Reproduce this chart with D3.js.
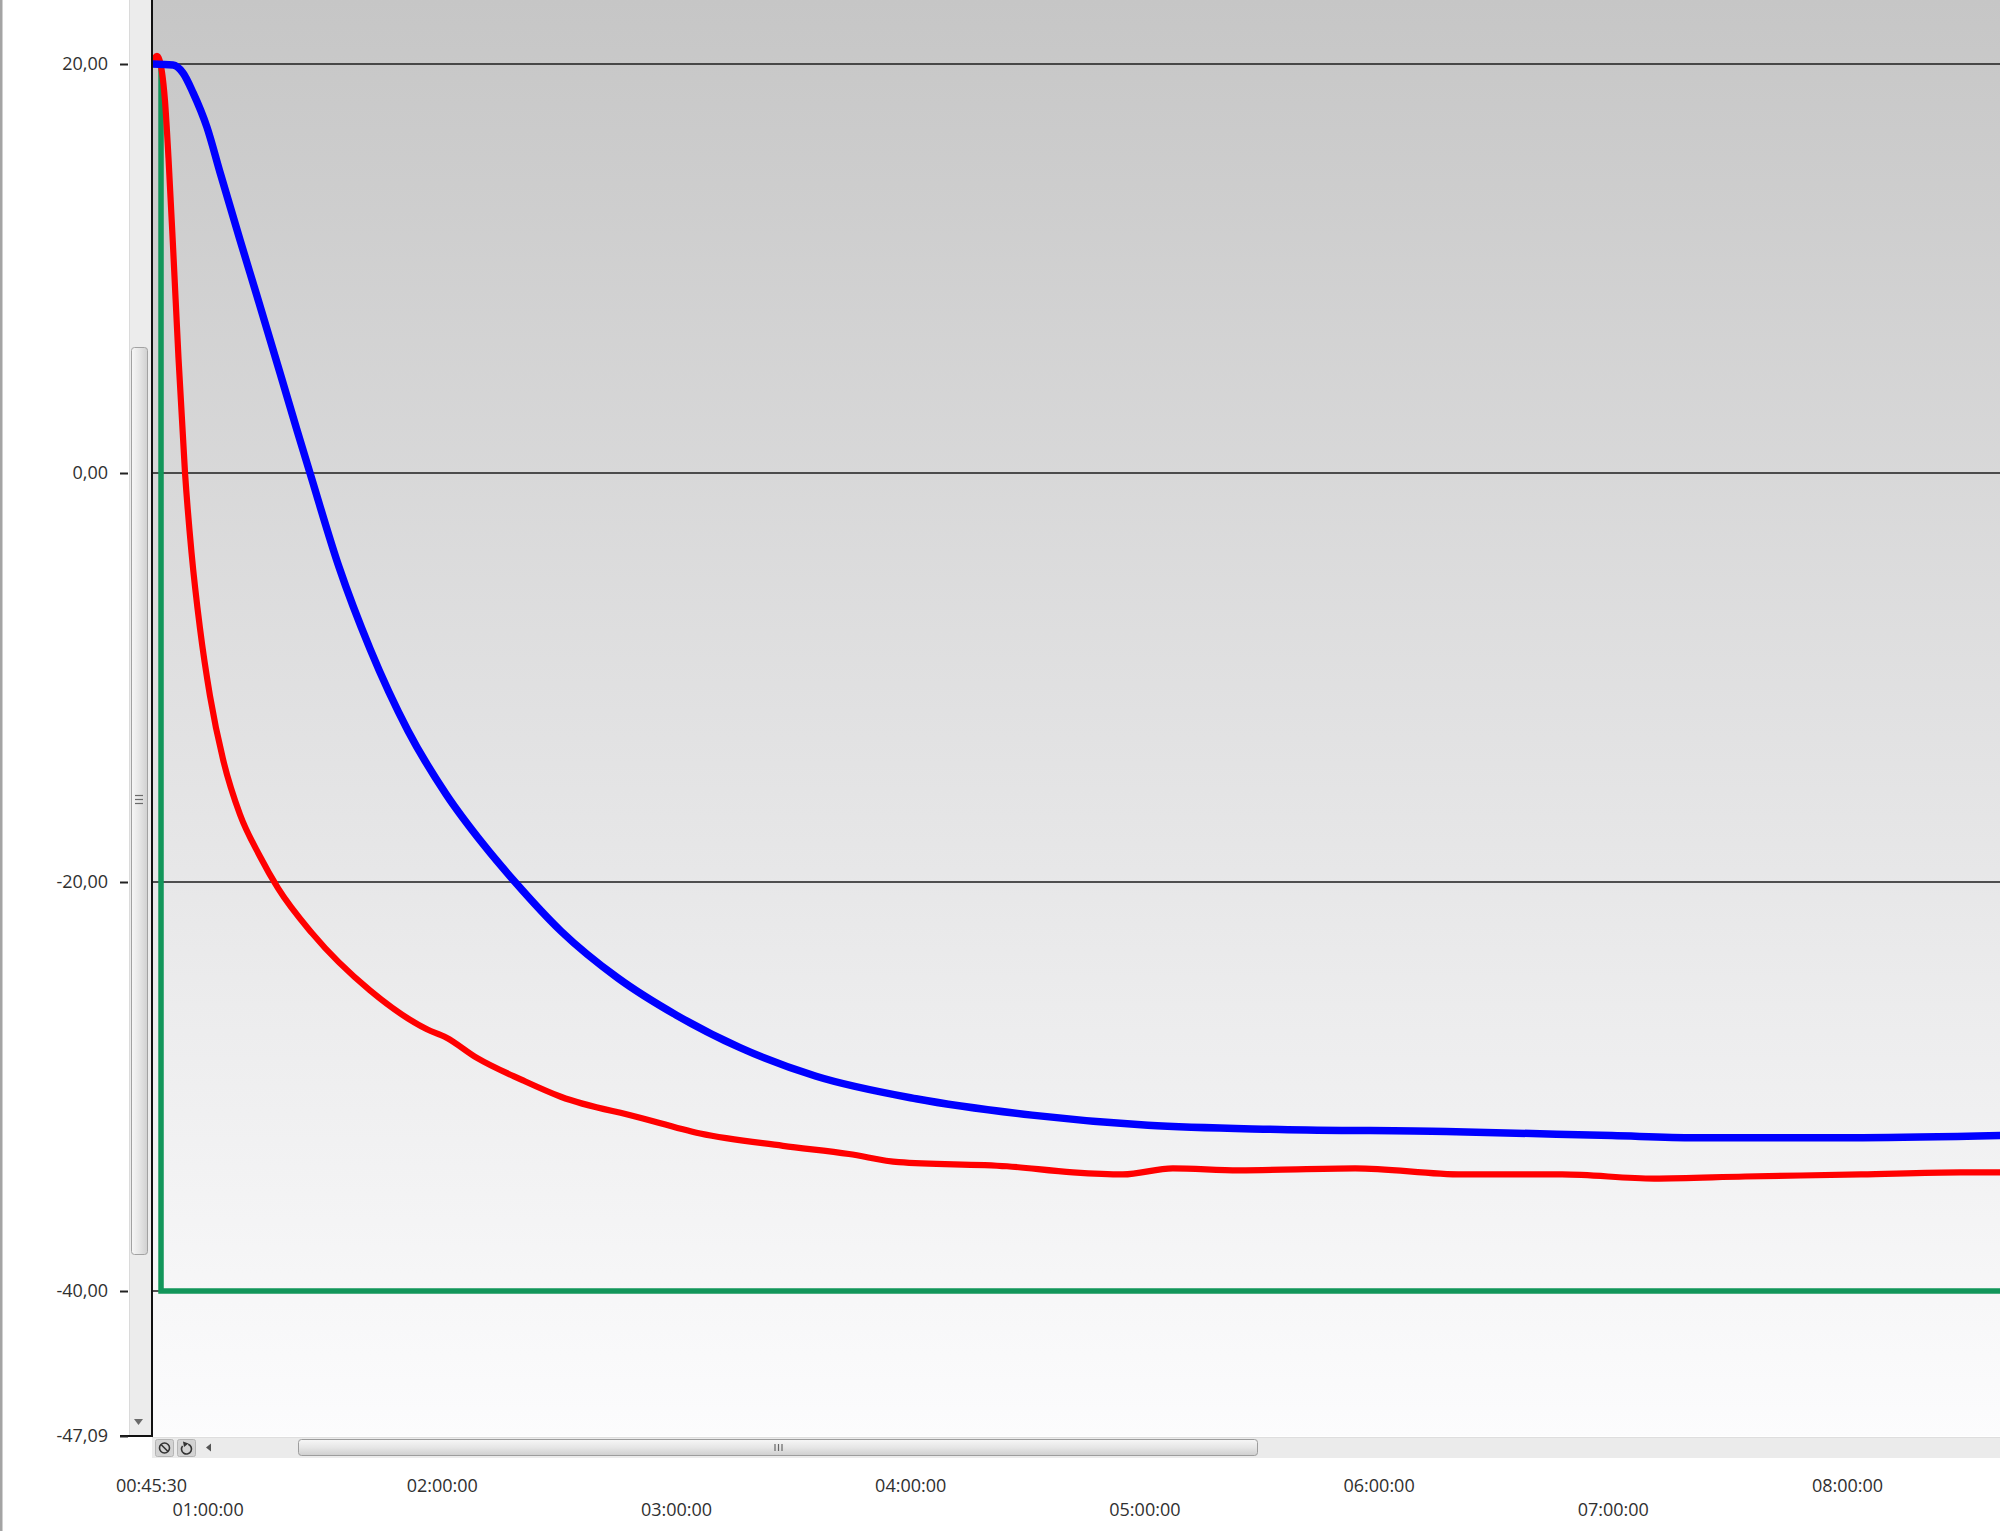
<!DOCTYPE html>
<html><head><meta charset="utf-8">
<script src="https://cdn.jsdelivr.net/npm/d3@7"></script>
<style>
html,body{margin:0;padding:0;background:#fff;overflow:hidden}
</style>
</head><body><svg id="chart" width="2000" height="1531"></svg>
<script>
// ---------- data ----------
const blueTimes = ["00:45:30","00:51:08","00:53:42","00:56:16","00:59:51","01:03:11","01:08:18","01:12:40","01:18:33","01:22:54","01:26:14","01:33:40","01:41:37","01:51:20","02:01:05","02:10:49","02:18:46","02:30:32","02:45:09","03:00:00","03:16:24","03:35:54","04:01:30","04:31:12","05:00:54","05:34:42","06:17:18","06:59:48","07:21:06","08:04:00","08:39:12"];
const blueValues = [20.0,19.95,19.56,18.6,16.9,14.7,11.4,8.65,4.9,2.1,0.0,-4.6,-8.6,-12.6,-15.7,-18.2,-20.0,-22.4,-24.7,-26.5,-28.1,-29.5,-30.6,-31.4,-31.9,-32.1,-32.2,-32.4,-32.5,-32.5,-32.4];

const redTimes = ["00:45:46","00:47:02","00:48:19","00:49:05","00:49:59","00:51:16","00:52:33","00:54:13","00:55:53","00:58:03","01:00:37","01:03:57","01:08:18","01:13:26","01:18:02","01:26:45","01:41:36","01:56:12","02:01:06","02:09:00","02:20:48","02:30:30","02:50:18","03:06:12","03:27:24","03:44:18","03:57:06","04:24:48","04:41:42","04:54:30","05:07:18","05:24:12","05:54:00","06:21:36","06:47:00","07:10:36","07:33:54","08:03:36","08:29:00","08:39:12"];
const redValues = [20.1,20.4,19.6,18.2,15.4,10.6,5.6,0.0,-3.9,-7.6,-10.9,-14.0,-16.7,-18.75,-20.3,-22.5,-25.3,-27.2,-27.6,-28.6,-29.7,-30.5,-31.5,-32.3,-32.9,-33.3,-33.7,-33.9,-34.2,-34.3,-34.0,-34.1,-34.0,-34.3,-34.3,-34.5,-34.4,-34.3,-34.2,-34.2];

const greenTimes = ["00:45:30","00:48:04","00:48:04","08:39:12"];
const greenValues = [20, 20, -40, -40];

const yTickValues = [20, 0, -20, -40, -47.09];
const yTickLabels = ["20,00","0,00","-20,00","-40,00","-47,09"];
const xTickLabels = ["00:45:30","01:00:00","02:00:00","03:00:00","04:00:00","05:00:00","06:00:00","07:00:00","08:00:00"];
const xDomain = ["00:45:30","08:39:12"];
const yDomain = [-47.09, 23.13];

// ---------- layout ----------
const W = 2000, H = 1531;
const plotL = 152, plotR = 2000, plotT = 0, plotB = 1436;
const parse = d3.timeParse("%H:%M:%S");
const FONT = "'Open Sans', 'Noto Sans', sans-serif";

const x = d3.scaleTime().domain(xDomain.map(parse)).range([151, 2000]);
const y = d3.scaleLinear().domain(yDomain).range([plotB, plotT]);

const svg = d3.select("#chart");
const defs = svg.append("defs");

const bg = defs.append("linearGradient").attr("id","bgGrad").attr("x1",0).attr("y1",0).attr("x2",0).attr("y2",1);
bg.append("stop").attr("offset","0%").attr("stop-color","#c6c6c6");
bg.append("stop").attr("offset","55%").attr("stop-color","#e4e4e5");
bg.append("stop").attr("offset","100%").attr("stop-color","#fcfcfd");

const hThumb = defs.append("linearGradient").attr("id","hThumb").attr("x1",0).attr("y1",0).attr("x2",0).attr("y2",1);
hThumb.append("stop").attr("offset","0%").attr("stop-color","#f7f7f7");
hThumb.append("stop").attr("offset","50%").attr("stop-color","#e6e6e6");
hThumb.append("stop").attr("offset","100%").attr("stop-color","#cfcfcf");

const vThumb = defs.append("linearGradient").attr("id","vThumb").attr("x1",0).attr("y1",0).attr("x2",1).attr("y2",0);
vThumb.append("stop").attr("offset","0%").attr("stop-color","#f7f7f7");
vThumb.append("stop").attr("offset","50%").attr("stop-color","#e6e6e6");
vThumb.append("stop").attr("offset","100%").attr("stop-color","#d0d0d0");

defs.append("clipPath").attr("id","plotClip").append("rect")
  .attr("x", plotL).attr("y", plotT).attr("width", plotR - plotL).attr("height", plotB - plotT);

// page background
svg.append("rect").attr("width",W).attr("height",H).attr("fill","#ffffff");
// left window border
svg.append("rect").attr("x",0).attr("y",0).attr("width",2.5).attr("height",H).attr("fill","#a4a4a4");

// plot background
svg.append("rect").attr("x",plotL).attr("y",plotT).attr("width",plotR-plotL).attr("height",plotB-plotT).attr("fill","url(#bgGrad)");

// gridlines
svg.append("g").selectAll("line").data(yTickValues.slice(0,4)).join("line")
  .attr("x1", plotL).attr("x2", plotR)
  .attr("y1", d => y(d)).attr("y2", d => y(d))
  .attr("stroke", "#1c1c1c").attr("stroke-width", 1.5);

// series
const plot = svg.append("g").attr("clip-path","url(#plotClip)");
const lineSmooth = d3.line().x(d => x(d[0])).y(d => y(d[1])).curve(d3.curveMonotoneX);
const lineStep = d3.line().x(d => x(d[0])).y(d => y(d[1]));

const greenData = greenTimes.map((t,i) => [parse(t), greenValues[i]]);
const redData = redTimes.map((t,i) => [parse(t), redValues[i]]);
const blueData = blueTimes.map((t,i) => [parse(t), blueValues[i]]);

plot.append("path").datum(greenData).attr("d", lineStep)
  .attr("fill","none").attr("stroke","#12965a").attr("stroke-width",5.5).attr("stroke-linejoin","miter");
plot.append("path").datum(redData).attr("d", lineSmooth)
  .attr("fill","none").attr("stroke","#ff0000").attr("stroke-width",6.2).attr("stroke-linecap","round").attr("stroke-linejoin","round");
plot.append("path").datum(blueData).attr("d", lineSmooth)
  .attr("fill","none").attr("stroke","#0000ff").attr("stroke-width",7.5).attr("stroke-linecap","round").attr("stroke-linejoin","round");

// vertical scrollbar
const vs = svg.append("g");
vs.append("rect").attr("x",129).attr("y",0).attr("width",22).attr("height",plotB).attr("fill","#ececec");
vs.append("line").attr("x1",129.5).attr("x2",129.5).attr("y1",0).attr("y2",plotB).attr("stroke","#dadada");
vs.append("rect").attr("x",131.5).attr("y",347.5).attr("width",16).attr("height",907).attr("rx",3)
  .attr("fill","url(#vThumb)").attr("stroke","#a2a2a2");
vs.selectAll("line.grip").data([795,799,803]).join("line").attr("class","grip")
  .attr("x1",135).attr("x2",143).attr("y1",d=>d+0.5).attr("y2",d=>d+0.5).attr("stroke","#6a6a6a").attr("stroke-width",1.2);
vs.append("path").attr("d","M134,1419 L143,1419 L138.5,1425 Z").attr("fill","#6a6a6a");

// axis line
svg.append("line").attr("x1",152).attr("x2",152).attr("y1",0).attr("y2",plotB).attr("stroke","#111").attr("stroke-width",2);
svg.append("line").attr("x1",120).attr("x2",153).attr("y1",plotB).attr("y2",plotB).attr("stroke","#111").attr("stroke-width",2);

// y axis
const yAxis = d3.axisLeft(y).tickValues(yTickValues)
  .tickFormat((d,i) => yTickLabels[i]).tickSize(8).tickPadding(12);
const gy = svg.append("g").attr("transform","translate(128,0)").call(yAxis);
gy.select(".domain").remove();
gy.attr("font-family", FONT).attr("font-size", 18);
gy.selectAll(".tick line").attr("stroke","#222").attr("stroke-width",2);
gy.selectAll(".tick text").attr("fill","#303030");

// horizontal scrollbar
const hs = svg.append("g");
hs.append("rect").attr("x",152).attr("y",1437).attr("width",1848).attr("height",21).attr("fill","#ebebeb");
hs.append("line").attr("x1",152).attr("x2",2000).attr("y1",1437.5).attr("y2",1437.5).attr("stroke","#dedede");
[155,177].forEach(bx => {
  hs.append("rect").attr("x",bx+0.5).attr("y",1439.5).attr("width",18).attr("height",17).attr("rx",2)
    .attr("fill","#d3d3d3").attr("stroke","#b5b5b5");
});
// icon 1: no-entry circle
hs.append("circle").attr("cx",164.5).attr("cy",1448).attr("r",5).attr("fill","none").attr("stroke","#333").attr("stroke-width",1.6);
hs.append("line").attr("x1",161).attr("y1",1444.5).attr("x2",168).attr("y2",1451.5).attr("stroke","#333").attr("stroke-width",1.6);
// icon 2: refresh arrow
hs.append("path").attr("d", d3.arc()({innerRadius:4.2, outerRadius:5.8, startAngle:0.35, endAngle:2*Math.PI-0.9}))
  .attr("transform","translate(186.5,1449)").attr("fill","#333");
hs.append("path").attr("d","M183,1441.5 L188.5,1443.5 L184,1447 Z").attr("fill","#333");
// left arrow
hs.append("path").attr("d","M206,1447.5 L211,1443.5 L211,1451.5 Z").attr("fill","#555");
// thumb
hs.append("rect").attr("x",298.5).attr("y",1439.5).attr("width",959).attr("height",16).attr("rx",3)
  .attr("fill","url(#hThumb)").attr("stroke","#9d9d9d");
hs.selectAll("line.grip").data([775,778.5,782]).join("line").attr("class","grip")
  .attr("x1",d=>d).attr("x2",d=>d).attr("y1",1444).attr("y2",1451).attr("stroke","#666").attr("stroke-width",1.2);

// x axis (two staggered rows)
const xAxis = d3.axisBottom(x).tickValues(xTickLabels.map(parse))
  .tickFormat((d,i) => xTickLabels[i]).tickSize(0);
const gx = svg.append("g").attr("transform","translate(0,1460)").call(xAxis);
gx.select(".domain").remove();
gx.attr("font-family", FONT).attr("font-size", 18);
gx.selectAll(".tick text").attr("fill","#303030").attr("dy",0)
  .attr("y", (d,i) => i % 2 === 0 ? 32 : 56);
</script>
</body></html>
